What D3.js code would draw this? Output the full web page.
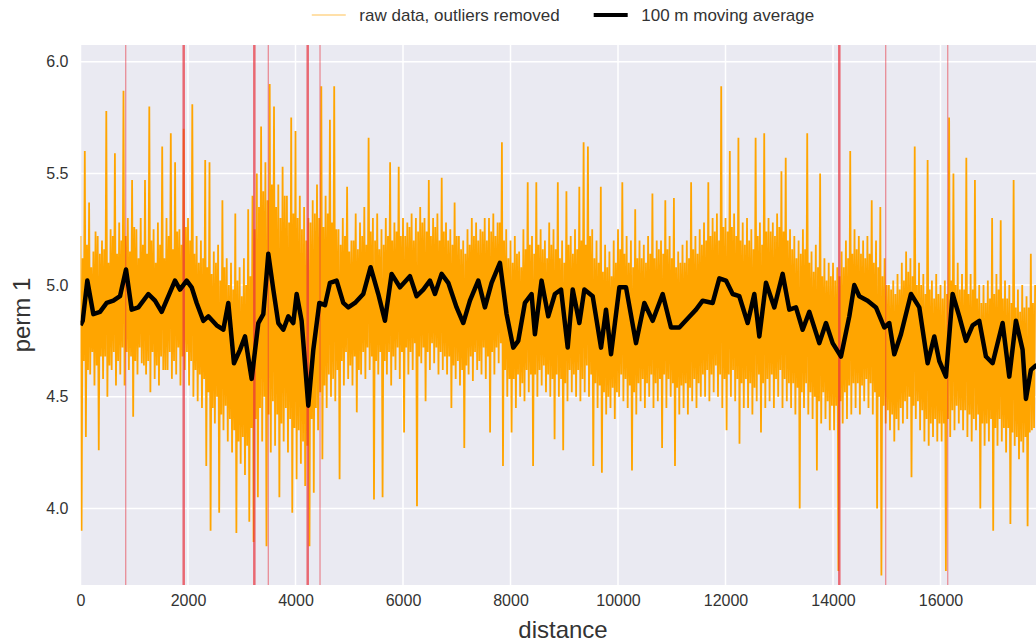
<!DOCTYPE html>
<html>
<head>
<meta charset="utf-8">
<script src="https://cdn.jsdelivr.net/npm/d3@7"></script>
<style>
  body { margin: 0; background: #ffffff; }
  svg { display: block; }
  text { font-family: Arial, "Liberation Sans", sans-serif; }
</style>
</head>
<body>
<svg id="chart" width="1036" height="643"></svg>
<script>
// Raw permeability readings (outliers removed), one sample every 20 m
const rawStep = 20;
const rawValues = [
  5.22, 3.90, 5.12, 4.66, 5.60, 4.32, 5.18, 4.62, 5.37, 4.60, 5.08, 4.70, 5.15, 4.55, 5.24, 4.64, 5.22, 4.26, 5.14, 4.68,
  5.20, 4.58, 5.16, 4.68, 5.78, 4.50, 5.10, 4.64, 5.25, 4.62, 5.22, 4.70, 5.59, 4.55, 5.14, 4.66, 5.28, 4.60, 5.20, 4.72,
  5.87, 4.55, 5.22, 4.70, 5.30, 4.62, 5.15, 4.68, 5.47, 4.41, 5.26, 4.66, 5.25, 4.60, 5.12, 4.72, 5.30, 4.65, 5.18, 4.64,
  5.47, 4.60, 5.14, 4.66, 5.80, 4.52, 5.20, 4.70, 5.25, 4.58, 5.10, 4.64, 5.28, 4.55, 5.18, 4.68, 5.62, 4.62, 5.12, 4.62,
  5.30, 4.62, 5.22, 4.70, 5.68, 4.58, 5.16, 4.66, 5.55, 4.60, 5.24, 4.72, 5.25, 4.55, 5.18, 4.68, 5.70, 4.62, 5.26, 4.70,
  5.30, 4.55, 5.20, 4.66, 5.81, 4.50, 5.14, 4.62, 5.22, 4.48, 5.10, 4.60, 5.20, 4.45, 5.12, 4.58, 5.56, 4.19, 5.08, 4.52,
  5.55, 3.90, 5.05, 4.45, 5.15, 4.38, 5.10, 4.50, 5.18, 3.98, 5.02, 4.42, 5.38, 4.35, 5.08, 4.46, 5.12, 4.30, 5.00, 4.40,
  5.10, 4.25, 4.98, 4.35, 5.32, 3.89, 5.02, 4.30, 5.08, 4.20, 4.95, 4.32, 5.12, 4.15, 5.00, 4.28, 5.34, 3.94, 5.04, 4.36,
  5.40, 3.85, 5.25, 4.40, 5.50, 4.05, 5.35, 4.45, 5.71, 4.30, 5.42, 4.50, 5.55, 3.83, 5.38, 4.42, 5.90, 4.25, 5.45, 4.48,
  5.80, 4.28, 5.35, 4.42, 5.45, 4.05, 5.30, 4.38, 5.53, 4.30, 5.40, 4.45, 5.40, 4.25, 5.28, 4.40, 5.75, 3.98, 5.32, 4.36,
  5.69, 4.13, 5.30, 4.35, 5.40, 4.20, 5.25, 4.30, 5.35, 4.10, 5.20, 4.28, 5.30, 3.83, 5.28, 4.40, 5.38, 4.07, 5.32, 4.45,
  5.45, 4.35, 5.30, 4.52, 5.89, 4.22, 5.26, 4.55, 5.40, 4.45, 5.32, 4.60, 5.74, 4.50, 5.28, 4.58, 5.89, 4.48, 5.25, 4.62,
  5.25, 4.13, 5.18, 4.66, 5.30, 4.55, 5.22, 4.70, 5.44, 4.58, 5.15, 4.64, 5.20, 4.55, 5.20, 4.68, 5.32, 4.43, 5.16, 4.62,
  5.28, 4.60, 5.22, 4.70, 5.35, 4.58, 5.18, 4.72, 5.66, 4.62, 5.24, 4.68, 5.30, 4.04, 5.20, 4.66, 5.32, 4.60, 5.16, 4.70,
  5.25, 4.05, 5.18, 4.66, 5.30, 4.60, 5.22, 4.70, 5.55, 4.55, 5.20, 4.68, 5.28, 4.62, 5.24, 4.72, 5.53, 4.58, 5.22, 4.70,
  5.30, 4.34, 5.22, 4.72, 5.28, 4.60, 5.26, 4.70, 5.32, 4.62, 5.20, 4.74, 5.30, 4.01, 5.24, 4.68, 5.35, 4.65, 5.28, 4.72,
  5.30, 4.48, 5.24, 4.70, 5.47, 4.62, 5.22, 4.74, 5.30, 4.65, 5.26, 4.72, 5.32, 4.60, 5.20, 4.70, 5.48, 4.62, 5.24, 4.68,
  5.28, 4.60, 5.20, 4.68, 5.25, 4.45, 5.18, 4.64, 5.37, 4.58, 5.22, 4.66, 5.22, 4.55, 5.16, 4.62, 5.20, 4.27, 5.14, 4.64,
  5.25, 4.60, 5.18, 4.68, 5.30, 4.57, 5.22, 4.70, 5.28, 4.62, 5.20, 4.66, 5.25, 4.60, 5.24, 4.72, 5.30, 4.58, 5.20, 4.68,
  5.30, 4.34, 5.24, 4.70, 5.32, 4.60, 5.22, 4.72, 5.28, 4.65, 5.28, 4.74, 5.64, 4.19, 5.20, 4.62, 5.25, 4.50, 5.12, 4.58,
  5.20, 4.34, 5.10, 4.58, 5.22, 4.45, 5.14, 4.60, 5.15, 4.50, 5.08, 4.56, 5.25, 4.48, 5.16, 4.62, 5.46, 4.52, 5.18, 4.60,
  5.22, 4.19, 5.14, 4.60, 5.46, 4.50, 5.18, 4.62, 5.25, 4.55, 5.16, 4.64, 5.20, 4.52, 5.12, 4.60, 5.28, 4.50, 5.18, 4.58,
  5.25, 4.31, 5.16, 4.60, 5.46, 4.50, 5.12, 4.58, 5.20, 4.26, 5.10, 4.56, 5.42, 4.48, 5.18, 4.62, 5.22, 4.52, 5.14, 4.60,
  5.25, 4.50, 5.16, 4.62, 5.44, 4.48, 5.20, 4.58, 5.64, 4.52, 5.18, 4.64, 5.62, 4.50, 5.22, 4.60, 5.25, 4.19, 5.12, 4.56,
  5.20, 4.45, 5.10, 4.55, 5.44, 4.16, 5.06, 4.52, 5.18, 4.42, 5.08, 4.50, 5.15, 4.45, 5.04, 4.54, 5.20, 4.40, 5.10, 4.52,
  5.25, 4.50, 5.16, 4.60, 5.46, 4.48, 5.14, 4.58, 5.22, 4.45, 5.10, 4.55, 5.20, 4.17, 5.08, 4.52, 5.34, 4.42, 5.12, 4.56,
  5.20, 4.48, 5.12, 4.58, 5.18, 4.45, 5.10, 4.56, 5.22, 4.50, 5.14, 4.60, 5.41, 4.45, 5.12, 4.56, 5.20, 4.48, 5.16, 4.58,
  5.20, 4.27, 5.14, 4.60, 5.38, 4.45, 5.16, 4.58, 5.22, 4.50, 5.12, 4.56, 5.39, 4.19, 5.08, 4.54, 5.15, 4.42, 5.10, 4.55,
  5.18, 4.45, 5.10, 4.56, 5.20, 4.42, 5.12, 4.54, 5.46, 4.48, 5.16, 4.58, 5.22, 4.45, 5.14, 4.56, 5.25, 4.50, 5.18, 4.60,
  5.28, 4.50, 5.20, 4.62, 5.46, 4.48, 5.22, 4.60, 5.30, 4.52, 5.24, 4.64, 5.32, 4.50, 5.20, 4.60, 5.89, 4.45, 5.26, 4.58,
  5.30, 4.35, 5.24, 4.60, 5.60, 4.50, 5.26, 4.62, 5.32, 4.48, 5.22, 4.58, 5.66, 4.29, 5.20, 4.56, 5.28, 4.45, 5.18, 4.58,
  5.30, 4.45, 5.20, 4.56, 5.25, 4.42, 5.16, 4.54, 5.66, 4.48, 5.22, 4.60, 5.28, 4.34, 5.18, 4.56, 5.68, 4.45, 5.24, 4.58,
  5.30, 4.48, 5.24, 4.60, 5.28, 4.45, 5.22, 4.58, 5.32, 4.50, 5.26, 4.62, 5.51, 4.45, 5.24, 4.58, 5.57, 4.48, 5.20, 4.56,
  5.25, 4.45, 5.16, 4.56, 5.22, 4.42, 5.12, 4.54, 5.20, 4.00, 5.14, 4.52, 5.25, 4.45, 5.16, 4.56, 5.68, 4.42, 5.10, 4.52,
  5.15, 4.40, 5.06, 4.50, 5.18, 4.17, 5.08, 4.48, 5.50, 4.38, 5.04, 4.52, 5.12, 4.40, 5.02, 4.48, 5.10, 4.35, 5.04, 4.46,
  5.10, 4.35, 5.02, 4.46, 5.08, 3.72, 5.04, 4.48, 5.15, 4.38, 5.08, 4.52, 5.20, 4.40, 5.12, 4.55, 5.60, 4.42, 5.14, 4.56,
  5.25, 4.45, 5.16, 4.56, 5.22, 4.42, 5.14, 4.55, 5.20, 4.48, 5.12, 4.58, 5.22, 4.45, 5.14, 4.56, 5.38, 4.42, 5.10, 4.52,
  5.20, 4.00, 5.08, 4.50, 5.35, 3.70, 5.04, 4.46, 5.12, 4.38, 5.00, 4.44, 5.00, 4.35, 4.98, 4.42, 5.02, 4.30, 4.96, 4.40,
  5.05, 4.35, 4.98, 4.45, 5.10, 4.38, 5.02, 4.48, 5.15, 4.40, 5.06, 4.50, 5.12, 4.14, 5.04, 4.46, 5.62, 4.40, 5.00, 4.48,
  5.10, 4.35, 5.00, 4.44, 5.05, 4.30, 4.96, 4.40, 5.56, 4.28, 4.98, 4.38, 5.02, 4.32, 4.94, 4.40, 5.05, 4.30, 4.96, 4.38,
  5.00, 4.30, 4.94, 4.38, 5.02, 3.72, 4.96, 4.40, 5.75, 4.32, 5.02, 4.44, 5.50, 4.35, 5.00, 4.46, 5.10, 4.38, 4.98, 4.44,
  5.05, 4.35, 4.98, 4.44, 5.57, 4.32, 4.96, 4.42, 5.05, 4.30, 4.98, 4.40, 5.47, 4.35, 4.94, 4.42, 5.00, 4.00, 4.92, 4.38,
  5.00, 4.28, 4.92, 4.38, 5.02, 4.30, 4.94, 4.40, 5.30, 3.90, 4.96, 4.36, 5.05, 4.28, 4.98, 4.40, 5.29, 4.30, 4.94, 4.36,
  5.02, 4.25, 4.94, 4.36, 5.00, 3.93, 4.92, 4.34, 5.47, 4.28, 4.90, 4.32, 4.98, 4.22, 4.88, 4.30, 5.00, 4.25, 4.90, 4.32,
  4.95, 3.92, 4.90, 4.34, 5.14, 4.35, 4.92, 4.36, 5.00
];

// 100 m moving average
const avgDistance = [
  0, 41, 127, 239, 363, 487, 611, 735, 847, 952, 1076, 1262, 1386, 1510,
  1758, 1851, 1975, 2068, 2161, 2285, 2378, 2533, 2657, 2750, 2855, 2967,
  3060, 3184, 3308, 3401, 3494, 3587, 3680, 3773, 3866, 3959, 4021, 4114,
  4238, 4331, 4443, 4548, 4641, 4765, 4889, 4982, 5106, 5261, 5397, 5540,
  5664, 5788, 5943, 6129, 6253, 6377, 6501, 6594, 6718, 6842, 6997, 7121,
  7245, 7400, 7524, 7648, 7803, 7927, 8051, 8144, 8268, 8392, 8454, 8578,
  8702, 8826, 8940, 9064, 9157, 9281, 9374, 9529, 9684, 9777, 9870, 10025,
  10149, 10335, 10490, 10645, 10831, 10986, 11141, 11296, 11451, 11575,
  11761, 11885, 12009, 12133, 12257, 12412, 12536, 12629, 12753, 12908,
  13063, 13187, 13311, 13435, 13559, 13745, 13869, 13993, 14148, 14303,
  14396, 14489, 14644, 14799, 14954, 15047, 15140, 15264, 15450, 15605,
  15760, 15884, 15977, 16101, 16225, 16349, 16473, 16597, 16721, 16845,
  16969, 17155, 17279, 17403, 17527, 17589, 17682, 17775, 17900
];
const avgValue = [
  4.82, 4.84, 5.02, 4.87, 4.88, 4.92, 4.93, 4.95, 5.07, 4.89, 4.90, 4.96, 4.93, 4.88,
  5.02, 4.98, 5.02, 4.99, 4.92, 4.84, 4.86, 4.82, 4.80, 4.92, 4.65, 4.71,
  4.77, 4.58, 4.83, 4.87, 5.14, 4.98, 4.83, 4.80, 4.86, 4.83, 4.96, 4.84,
  4.46, 4.71, 4.92, 4.91, 5.01, 5.02, 4.92, 4.90, 4.92, 4.96, 5.08, 4.96,
  4.84, 5.05, 4.99, 5.04, 4.95, 4.98, 5.02, 4.96, 5.05, 5.01, 4.90, 4.83,
  4.93, 5.02, 4.90, 5.01, 5.10, 4.87, 4.72, 4.75, 4.92, 4.96, 4.78, 5.02,
  4.86, 4.96, 4.98, 4.72, 4.98, 4.83, 4.98, 4.95, 4.72, 4.89, 4.69, 4.99,
  4.99, 4.74, 4.92, 4.84, 4.96, 4.81, 4.81, 4.85, 4.89, 4.93,
  4.92, 5.03, 5.02, 4.96, 4.95, 4.83, 4.96, 4.77, 5.01, 4.90,
  5.05, 4.89, 4.90, 4.80, 4.88, 4.74, 4.83, 4.74, 4.68, 4.86,
  5.00, 4.95, 4.93, 4.90, 4.81, 4.83, 4.69, 4.78, 4.96, 4.90,
  4.65, 4.77, 4.66, 4.59, 4.96, 4.86, 4.75, 4.82, 4.84, 4.68,
  4.65, 4.83, 4.59, 4.84, 4.71, 4.49, 4.62, 4.64, 4.62
];

// Locations of removed outliers
const outliersMajor = [1920, 3234, 4227, 14117];
const outliersMinor = [841, 3494, 4456, 14980, 16134];

const xTicks = [0, 2000, 4000, 6000, 8000, 10000, 12000, 14000, 16000];
const yTicks = [4.0, 4.5, 5.0, 5.5, 6.0];

const legendLabels = ["raw data, outliers removed", "100 m moving average"];

// ---- layout ----
const plot = { left: 80.5, right: 1045.5, top: 45, bottom: 585 };
const svg = d3.select("#chart");

const x = d3.scaleLinear().domain([0, 17953]).range([plot.left, plot.right]);
const y = d3.scaleLinear().domain([3.657, 6.075]).range([plot.bottom, plot.top]);

svg.append("defs").append("clipPath").attr("id", "plotClip")
  .append("rect")
  .attr("x", plot.left).attr("y", plot.top)
  .attr("width", plot.right - plot.left).attr("height", plot.bottom - plot.top);

// background
svg.append("rect")
  .attr("x", plot.left).attr("y", plot.top)
  .attr("width", plot.right - plot.left).attr("height", plot.bottom - plot.top)
  .attr("fill", "#eaeaf2");

// grid
const grid = svg.append("g");
grid.selectAll(".gx").data(xTicks).join("line")
  .attr("x1", d => x(d)).attr("x2", d => x(d))
  .attr("y1", plot.top).attr("y2", plot.bottom)
  .attr("stroke", "#ffffff").attr("stroke-width", 1.5);
grid.selectAll(".gy").data(yTicks).join("line")
  .attr("x1", plot.left).attr("x2", plot.right)
  .attr("y1", d => y(d)).attr("y2", d => y(d))
  .attr("stroke", "#ffffff").attr("stroke-width", 1.5);

const body = svg.append("g").attr("clip-path", "url(#plotClip)");

// raw series
const rawPoints = rawValues.map((v, i) => [i * rawStep, v]);
const line = d3.line().x(d => x(d[0])).y(d => y(d[1]));
body.append("path")
  .datum(rawPoints)
  .attr("d", line)
  .attr("fill", "none")
  .attr("stroke", "#ffa500")
  .attr("stroke-width", 1.8)
  .attr("stroke-linejoin", "bevel");

// outlier markers
body.selectAll(".omaj").data(outliersMajor).join("line")
  .attr("x1", d => x(d)).attr("x2", d => x(d))
  .attr("y1", plot.top).attr("y2", plot.bottom)
  .attr("stroke", "#e8303c").attr("stroke-opacity", 0.7).attr("stroke-width", 2.5);
body.selectAll(".omin").data(outliersMinor).join("line")
  .attr("x1", d => x(d)).attr("x2", d => x(d))
  .attr("y1", plot.top).attr("y2", plot.bottom)
  .attr("stroke", "#e8303c").attr("stroke-opacity", 0.5).attr("stroke-width", 1.3);

// moving average
const avgPoints = avgDistance.map((d, i) => [d, avgValue[i]]);
body.append("path")
  .datum(avgPoints)
  .attr("d", line)
  .attr("fill", "none")
  .attr("stroke", "#000000")
  .attr("stroke-width", 4.5)
  .attr("stroke-linejoin", "round");

// axes
const xAxis = svg.append("g")
  .attr("transform", `translate(0,${plot.bottom})`)
  .call(d3.axisBottom(x).tickValues(xTicks).tickSize(0).tickPadding(10).tickFormat(d3.format("d")));
const yAxis = svg.append("g")
  .attr("transform", `translate(${plot.left},0)`)
  .call(d3.axisLeft(y).tickValues(yTicks).tickSize(0).tickPadding(12).tickFormat(d3.format(".1f")));
[xAxis, yAxis].forEach(a => {
  a.select(".domain").remove();
  a.selectAll("text").attr("font-size", 16).attr("fill", "#333333")
    .attr("font-family", "Arial, 'Liberation Sans', sans-serif");
});

// axis titles
const cx = (plot.left + plot.right) / 2;
svg.append("text")
  .attr("x", cx).attr("y", 638)
  .attr("text-anchor", "middle")
  .attr("font-size", 24).attr("fill", "#333333")
  .text("distance");
svg.append("text")
  .attr("transform", `translate(30,${(plot.top + plot.bottom) / 2}) rotate(-90)`)
  .attr("text-anchor", "middle")
  .attr("font-size", 24).attr("fill", "#333333")
  .text("perm 1");

// legend, centred above the axes
const fs = 17, handle = 2 * fs, pad = 0.8 * fs, gap = 2 * fs;
const leg = svg.append("g");
const t1 = leg.append("text").attr("font-size", fs).attr("fill", "#333333").text(legendLabels[0]);
const t2 = leg.append("text").attr("font-size", fs).attr("fill", "#333333").text(legendLabels[1]);
const w1 = t1.node().getComputedTextLength();
const w2 = t2.node().getComputedTextLength();
const total = handle + pad + w1 + gap + handle + pad + w2;
const lx = cx - total / 2, ly = 15;
leg.append("line").attr("x1", lx).attr("x2", lx + handle).attr("y1", ly).attr("y2", ly)
  .attr("stroke", "#ffa500").attr("stroke-opacity", 0.45).attr("stroke-width", 1.5);
t1.attr("x", lx + handle + pad).attr("y", ly + 6);
const lx2 = lx + handle + pad + w1 + gap;
leg.append("line").attr("x1", lx2).attr("x2", lx2 + handle).attr("y1", ly).attr("y2", ly)
  .attr("stroke", "#000000").attr("stroke-width", 4);
t2.attr("x", lx2 + handle + pad).attr("y", ly + 6);
</script>
</body>
</html>
